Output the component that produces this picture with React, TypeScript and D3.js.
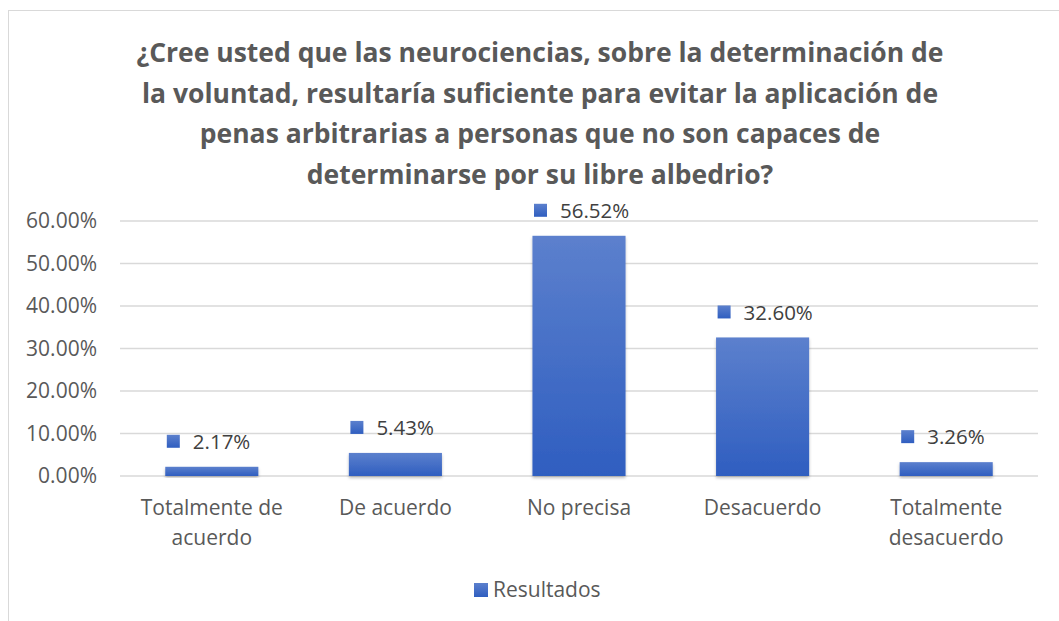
import React from "react";
import * as d3 from "d3";

const titleLines = [
  "¿Cree usted que las neurociencias, sobre la determinación de",
  "la voluntad, resultaría suficiente para evitar la aplicación de",
  "penas arbitrarias a personas que no son capaces de",
  "determinarse por su libre albedrio?",
];
const categories = [
  ["Totalmente de", "acuerdo"],
  ["De acuerdo"],
  ["No precisa"],
  ["Desacuerdo"],
  ["Totalmente", "desacuerdo"],
];
const values = [0.0217, 0.0543, 0.5652, 0.326, 0.0326];
const ticks = [0, 0.1, 0.2, 0.3, 0.4, 0.5, 0.6];
const seriesName = "Resultados";

const W = 1059;
const H = 621;
const FONT = "'Open Sans', sans-serif";
const TEXT = "#595959";

export default function App() {
  const x = d3
    .scaleBand<number>()
    .domain(d3.range(categories.length))
    .range([120, 1038])
    .paddingInner(0.493)
    .paddingOuter(0.2465);
  const y = d3.scaleLinear().domain([0, 0.6]).range([476, 221]);
  const fmt = d3.format(".2%");

  return (
    <svg width={W} height={H} style={{ position: "absolute", left: 0, top: 0 }}>
      <defs>
        <linearGradient id="barGrad" x1="0" y1="0" x2="0" y2="1">
          <stop offset="0%" stopColor="#5c80cd" />
          <stop offset="100%" stopColor="#2f5ec0" />
        </linearGradient>
        <filter id="shadow" x="-10%" y="-10%" width="120%" height="130%">
          <feDropShadow dx="0" dy="2" stdDeviation="1.5" floodColor="#000" floodOpacity="0.25" />
        </filter>
      </defs>
      <rect x={0} y={0} width={W} height={H} fill="#fff" />
      <rect x={8.5} y={10.5} width={W + 10} height={H + 10} fill="#fff" stroke="#d9d9d9" strokeWidth={1} />

      {titleLines.map((t, i) => (
        <text
          key={i}
          x={540}
          y={62 + i * 40.5}
          textAnchor="middle"
          fontFamily={FONT}
          fontWeight="bold"
          fontSize={26.5}
          fill={TEXT}
        >
          {t}
        </text>
      ))}

      {ticks.map((t) => (
        <g key={t}>
          <line x1={120} x2={1038} y1={y(t)} y2={y(t)} stroke="#d9d9d9" strokeWidth={1.3} />
          <text
            x={97}
            y={y(t)}
            dy="0.35em"
            textAnchor="end"
            fontFamily={FONT}
            fontSize={21}
            fill={TEXT}
          >
            {fmt(t)}
          </text>
        </g>
      ))}

      {values.map((v, i) => {
        const bx = x(i)!;
        const bw = x.bandwidth();
        const cx = bx + bw / 2;
        const ly = y(v) - 25;
        return (
          <g key={i}>
            <rect
              x={bx}
              y={y(v)}
              width={bw}
              height={y(0) - y(v)}
              fill="url(#barGrad)"
              filter="url(#shadow)"
            />
            <rect x={cx - 45} y={ly - 7} width={13} height={13} fill="url(#barGrad)" />
            <text
              x={cx - 19}
              y={ly}
              dy="0.35em"
              fontFamily={FONT}
              fontSize={20.5}
              fill="#404040"
            >
              {fmt(v)}
            </text>
          </g>
        );
      })}

      {categories.map((lines, i) => {
        const cx = x(i)! + x.bandwidth() / 2;
        return (
          <text key={i} x={cx} textAnchor="middle" fontFamily={FONT} fontSize={21} fill={TEXT}>
            {lines.map((l, j) => (
              <tspan key={j} x={cx} y={515 + j * 30}>
                {l}
              </tspan>
            ))}
          </text>
        );
      })}

      <rect x={474} y={583} width={14} height={14} fill="url(#barGrad)" />
      <text x={493} y={590} dy="0.35em" fontFamily={FONT} fontSize={21} fill={TEXT}>
        {seriesName}
      </text>
    </svg>
  );
}
